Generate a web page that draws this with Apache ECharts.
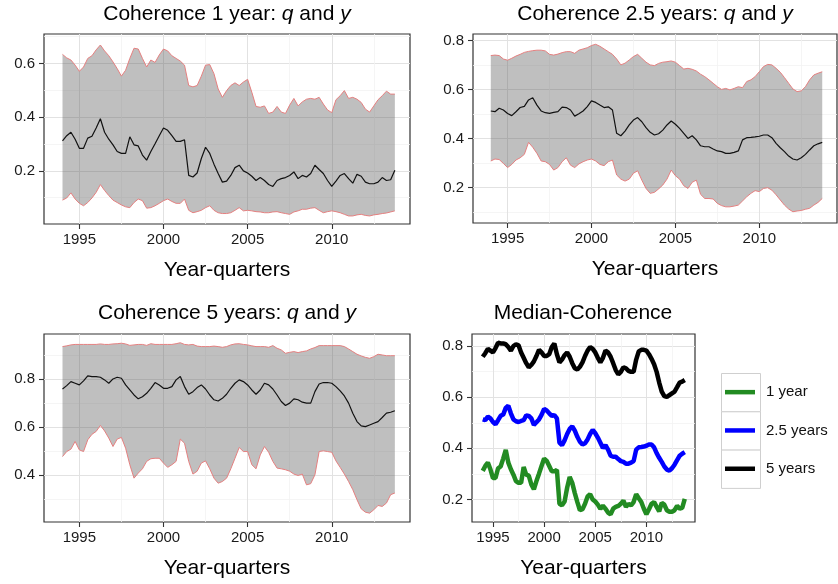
<!DOCTYPE html>
<html><head><meta charset="utf-8">
<script src="https://cdn.jsdelivr.net/npm/echarts@6/dist/echarts.min.js"></script>
<style>html,body{margin:0;padding:0;background:#fff}#c{width:838px;height:584px}</style>
</head><body><div id="c"></div>
<script>
// ---- data (quarterly, 1994Q1 .. 2013Q4) ----
const startYear = 1994;
const quarterCount = 80;

const xTicks = [1995, 2000, 2005, 2010];
const xMinorTicks = [1997.5, 2002.5, 2007.5, 2012.5];

const lower1 = [0.091,0.099,0.118,0.095,0.079,0.070,0.082,0.099,0.120,0.149,
 0.127,0.108,0.091,0.082,0.073,0.066,0.063,0.082,0.095,0.089,
 0.061,0.063,0.070,0.079,0.089,0.095,0.086,0.079,0.079,0.095,
 0.053,0.044,0.048,0.053,0.063,0.070,0.053,0.044,0.041,0.041,
 0.044,0.053,0.063,0.051,0.053,0.051,0.048,0.047,0.044,0.044,
 0.047,0.048,0.044,0.041,0.038,0.047,0.051,0.057,0.057,0.061,
 0.063,0.053,0.044,0.048,0.051,0.048,0.044,0.038,0.032,0.032,
 0.036,0.038,0.034,0.032,0.036,0.038,0.041,0.043,0.047,0.051];
const median1 = [0.312,0.331,0.344,0.318,0.284,0.284,0.322,0.329,0.360,0.394,
 0.344,0.318,0.297,0.272,0.265,0.265,0.327,0.297,0.293,0.259,
 0.240,0.272,0.301,0.331,0.360,0.351,0.331,0.310,0.310,0.316,
 0.183,0.177,0.192,0.246,0.288,0.265,0.225,0.190,0.158,0.162,
 0.183,0.212,0.221,0.200,0.192,0.180,0.164,0.175,0.164,0.149,
 0.142,0.164,0.171,0.175,0.183,0.196,0.171,0.183,0.177,0.190,
 0.221,0.205,0.190,0.164,0.142,0.162,0.183,0.190,0.171,0.154,
 0.187,0.180,0.158,0.152,0.152,0.158,0.175,0.164,0.167,0.202];
const upper1 = [0.634,0.621,0.613,0.594,0.571,0.587,0.619,0.629,0.651,0.669,
 0.647,0.629,0.606,0.581,0.553,0.575,0.619,0.657,0.654,0.619,
 0.587,0.613,0.604,0.632,0.654,0.647,0.629,0.619,0.609,0.594,
 0.518,0.513,0.518,0.553,0.594,0.596,0.562,0.505,0.474,0.499,
 0.518,0.528,0.518,0.531,0.541,0.493,0.440,0.437,0.442,0.414,
 0.419,0.440,0.419,0.414,0.445,0.470,0.442,0.457,0.467,0.470,
 0.467,0.474,0.449,0.427,0.417,0.465,0.480,0.499,0.470,0.474,
 0.467,0.455,0.430,0.419,0.442,0.465,0.480,0.497,0.486,0.486];

const lower2 = [0.309,0.317,0.315,0.299,0.282,0.295,0.313,0.322,0.336,0.385,
 0.365,0.340,0.309,0.306,0.295,0.272,0.282,0.306,0.322,0.292,
 0.282,0.297,0.306,0.313,0.317,0.309,0.295,0.290,0.306,0.313,
 0.252,0.235,0.227,0.235,0.259,0.269,0.231,0.197,0.177,0.181,
 0.195,0.211,0.235,0.272,0.249,0.235,0.208,0.197,0.222,0.231,
 0.173,0.156,0.156,0.154,0.136,0.127,0.122,0.122,0.125,0.129,
 0.146,0.163,0.177,0.188,0.184,0.197,0.200,0.190,0.171,0.150,
 0.129,0.113,0.102,0.105,0.107,0.112,0.116,0.129,0.140,0.156];
const median2 = [0.513,0.510,0.524,0.517,0.503,0.494,0.510,0.527,0.532,0.558,
 0.567,0.537,0.513,0.506,0.503,0.507,0.510,0.529,0.527,0.517,
 0.492,0.502,0.513,0.531,0.554,0.548,0.537,0.527,0.530,0.517,
 0.422,0.412,0.431,0.456,0.476,0.486,0.469,0.445,0.426,0.415,
 0.420,0.435,0.456,0.472,0.459,0.442,0.422,0.401,0.412,0.395,
 0.371,0.367,0.367,0.358,0.350,0.347,0.340,0.340,0.344,0.350,
 0.395,0.404,0.405,0.407,0.410,0.415,0.415,0.404,0.381,0.363,
 0.347,0.329,0.317,0.313,0.322,0.336,0.354,0.371,0.379,0.385];
const upper2 = [0.739,0.741,0.739,0.725,0.720,0.728,0.737,0.744,0.752,0.756,
 0.759,0.761,0.761,0.758,0.744,0.741,0.745,0.751,0.755,0.755,
 0.748,0.761,0.766,0.771,0.780,0.785,0.777,0.766,0.755,0.744,
 0.725,0.701,0.708,0.721,0.735,0.744,0.728,0.712,0.701,0.698,
 0.707,0.712,0.714,0.717,0.712,0.698,0.684,0.687,0.683,0.676,
 0.663,0.653,0.640,0.626,0.612,0.601,0.605,0.599,0.605,0.612,
 0.608,0.633,0.640,0.653,0.673,0.694,0.703,0.701,0.687,0.671,
 0.649,0.626,0.603,0.592,0.595,0.612,0.640,0.660,0.667,0.673];

const lower3 = [0.476,0.497,0.507,0.539,0.504,0.497,0.546,0.569,0.581,0.606,
 0.583,0.553,0.518,0.549,0.556,0.511,0.442,0.386,0.407,0.425,
 0.456,0.467,0.469,0.469,0.449,0.431,0.442,0.456,0.549,0.532,
 0.456,0.403,0.415,0.449,0.458,0.425,0.386,0.365,0.372,0.386,
 0.425,0.469,0.514,0.497,0.497,0.442,0.425,0.483,0.518,0.494,
 0.456,0.428,0.425,0.421,0.415,0.403,0.397,0.403,0.358,0.363,
 0.400,0.497,0.500,0.497,0.494,0.458,0.431,0.403,0.372,0.338,
 0.296,0.258,0.244,0.240,0.254,0.272,0.268,0.282,0.317,0.324];
const median3 = [0.758,0.772,0.789,0.782,0.775,0.792,0.813,0.810,0.810,0.807,
 0.796,0.782,0.800,0.807,0.803,0.775,0.754,0.733,0.717,0.726,
 0.740,0.761,0.785,0.775,0.761,0.761,0.768,0.796,0.810,0.768,
 0.736,0.747,0.764,0.775,0.758,0.733,0.713,0.708,0.719,0.736,
 0.761,0.782,0.796,0.789,0.775,0.754,0.736,0.754,0.782,0.775,
 0.758,0.733,0.706,0.689,0.699,0.717,0.713,0.703,0.699,0.699,
 0.747,0.779,0.785,0.785,0.782,0.768,0.750,0.729,0.699,0.657,
 0.622,0.604,0.601,0.608,0.615,0.622,0.639,0.657,0.661,0.667];
const upper3 = [0.935,0.938,0.942,0.944,0.944,0.944,0.944,0.944,0.944,0.946,
 0.944,0.944,0.946,0.947,0.949,0.946,0.940,0.942,0.944,0.944,
 0.940,0.947,0.944,0.944,0.944,0.944,0.944,0.947,0.951,0.944,
 0.942,0.944,0.937,0.935,0.935,0.935,0.937,0.935,0.932,0.935,
 0.942,0.946,0.947,0.944,0.942,0.938,0.935,0.935,0.935,0.932,
 0.939,0.928,0.921,0.907,0.911,0.914,0.910,0.914,0.917,0.925,
 0.931,0.939,0.939,0.939,0.939,0.939,0.939,0.935,0.925,0.914,
 0.903,0.896,0.890,0.886,0.893,0.903,0.900,0.897,0.897,0.897];

const panelTitles = ['Coherence 1 year: {i|q} and {i|y}', 'Coherence 2.5 years: {i|q} and {i|y}',
  'Coherence 5 years: {i|q} and {i|y}', 'Median-Coherence'];
const xAxisTitle = 'Year-quarters';
const legendNames = ['1 year', '2.5 years', '5 years'];
const yTicks = [[0.2,0.4,0.6],[0.2,0.4,0.6,0.8],[0.4,0.6,0.8],[0.2,0.4,0.6,0.8]];
const yMinorTicks = [[0.1,0.3,0.5,0.7],[0.1,0.3,0.5,0.7],[0.3,0.5,0.7,0.9],[0.3,0.5,0.7]];

// ---- layout / style ----
const FONT = '"Liberation Sans", Arial, Helvetica, sans-serif';
const quarters = [];
for (let i = 0; i < quarterCount; i++) quarters.push(startYear + i / 4);

const grids = [
  {left: 44,  top: 34,  width: 366, height: 190},
  {left: 473, top: 34,  width: 364, height: 189},
  {left: 44,  top: 334, width: 366, height: 188},
  {left: 472, top: 334, width: 223, height: 188}
];
const xRanges = [[1992.9, 2014.65],[1992.94, 2014.63],[1992.9, 2014.65],[1992.95, 2014.75]];
const yRanges = [[0.002, 0.71],[0.056, 0.827],[0.203, 0.9875],[0.112, 0.847]];

const xAxes = [], yAxes = [], series = [];
grids.forEach((g, gi) => {
  const xr = xRanges[gi], yr = yRanges[gi];
  xAxes.push({
    gridIndex: gi, type: 'value', min: xr[0], max: xr[1],
    axisLine: {show: false},
    axisTick: {show: true, length: 5, lineStyle: {color: '#333', width: 1.1}, customValues: xTicks},
    axisLabel: {customValues: xTicks, margin: 8, fontSize: 15, color: '#1a1a1a', fontFamily: FONT,
      formatter: v => String(Math.round(v))},
    splitLine: {show: true, lineStyle: {color: '#e2e2e2', width: 1}},
    name: xAxisTitle, nameLocation: 'middle', nameGap: 36,
    nameTextStyle: {fontSize: 21, color: '#000', fontFamily: FONT}
  });
  xAxes.push({
    gridIndex: gi, type: 'value', min: xr[0], max: xr[1],
    axisLine: {show: false}, axisLabel: {show: false},
    axisTick: {show: false, customValues: xMinorTicks},
    splitLine: {show: true, lineStyle: {color: '#f2f2f2', width: 0.8}}
  });
  yAxes.push({
    gridIndex: gi, type: 'value', min: yr[0], max: yr[1],
    axisLine: {show: false},
    axisTick: {show: true, length: 5, lineStyle: {color: '#333', width: 1.1}, customValues: yTicks[gi]},
    axisLabel: {customValues: yTicks[gi], margin: 9, fontSize: 15, color: '#1a1a1a', fontFamily: FONT,
      formatter: v => v.toFixed(1)},
    splitLine: {show: true, lineStyle: {color: '#e2e2e2', width: 1}}
  });
  yAxes.push({
    gridIndex: gi, type: 'value', min: yr[0], max: yr[1],
    axisLine: {show: false}, axisLabel: {show: false},
    axisTick: {show: false, customValues: yMinorTicks[gi]},
    splitLine: {show: true, lineStyle: {color: '#f2f2f2', width: 0.8}}
  });
});

const bands = [[lower1, median1, upper1],[lower2, median2, upper2],[lower3, median3, upper3]];
bands.forEach((b, gi) => {
  const [lo, md, up] = b;
  const ax = gi * 2;
  series.push({
    type: 'custom', xAxisIndex: ax, yAxisIndex: ax, silent: true, z: 2,
    data: quarters.map((q, i) => [q, lo[i], up[i]]),
    encode: {x: 0, y: [1, 2]},
    renderItem: function (params, api) {
      if (params.dataIndex !== 0) return null;
      const pts = [];
      for (let i = 0; i < quarters.length; i++) pts.push(api.coord([quarters[i], up[i]]));
      for (let i = quarters.length - 1; i >= 0; i--) pts.push(api.coord([quarters[i], lo[i]]));
      return {type: 'polygon', shape: {points: pts}, style: {fill: 'rgba(95,95,95,0.40)', stroke: null}};
    }
  });
  [lo, up].forEach(arr => series.push({
    type: 'line', xAxisIndex: ax, yAxisIndex: ax, silent: true, z: 3, symbol: 'none',
    data: quarters.map((q, i) => [q, arr[i]]),
    lineStyle: {color: '#e58080', width: 1}
  }));
  series.push({
    type: 'line', xAxisIndex: ax, yAxisIndex: ax, silent: true, z: 4, symbol: 'none',
    data: quarters.map((q, i) => [q, md[i]]),
    lineStyle: {color: '#111', width: 1.2}
  });
});

const medianColors = ['#228B22', '#0000FF', '#000000'];
[median1, median2, median3].forEach((md, k) => {
  series.push({
    name: legendNames[k], type: 'line', xAxisIndex: 6, yAxisIndex: 6, silent: true, z: 3 + k,
    symbol: 'none', color: medianColors[k],
    data: quarters.map((q, i) => [q, md[i]]),
    lineStyle: {color: medianColors[k], width: 4.5}
  });
});

const titleCenters = [[227, 4], [655, 4], [227, 303], [583, 303]];
const titles = panelTitles.map((t, k) => ({
  text: t, left: titleCenters[k][0], top: titleCenters[k][1], textAlign: 'center', padding: 0,
  textStyle: {fontSize: 21, fontWeight: 'normal', color: '#000', fontFamily: FONT,
    rich: {i: {fontSize: 21, fontStyle: 'italic', color: '#000', fontFamily: FONT}}}
}));

const legendCellTop = [373, 411.3, 449.6];
const legends = legendNames.map((n, k) => ({
  data: [n], left: 725, top: legendCellTop[k] + 19.15 - 8, orient: 'vertical', padding: 0,
  selectedMode: false, icon: 'rect', itemWidth: 30, itemHeight: 4.5,
  textStyle: {fontSize: 15, color: '#111', fontFamily: FONT, padding: [0, 0, 0, 6], lineHeight: 16}
}));

const graphics = legendCellTop.map(t => ({
  type: 'rect', left: 721, top: t, shape: {width: 39, height: 38.3},
  style: {fill: '#fff', stroke: '#cfcfcf', lineWidth: 1}, z: -1, silent: true
}));

const chart = echarts.init(document.getElementById('c'), null, {renderer: 'canvas'});
chart.setOption({
  backgroundColor: '#fff',
  animation: false,
  title: titles,
  legend: legends,
  graphic: graphics,
  grid: grids.map(g => Object.assign({show: true, borderColor: '#333', borderWidth: 1.2, backgroundColor: '#fff', containLabel: false}, g)),
  xAxis: xAxes,
  yAxis: yAxes,
  series: series
});
</script></body></html>
